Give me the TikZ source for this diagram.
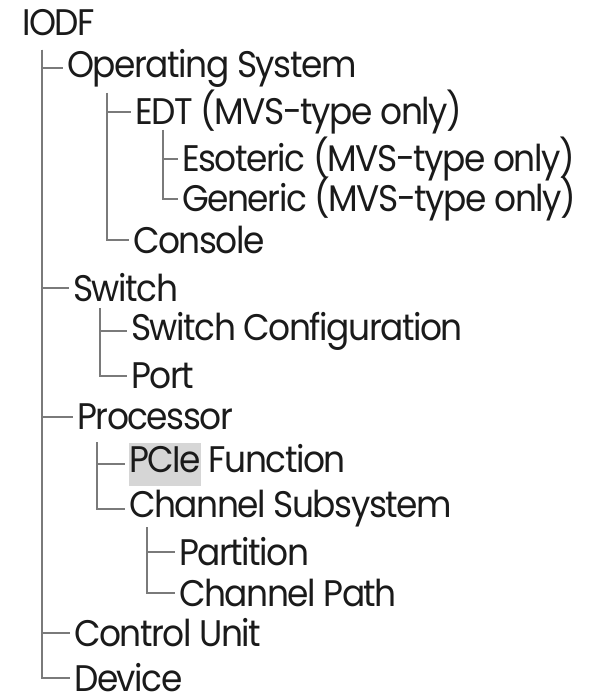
\documentclass[tikz,border=0pt]{standalone}
\usepackage{fontspec}
\setmainfont{Poppins}[LetterSpace=-4,FakeStretch=0.93]
\usetikzlibrary{positioning}
\definecolor{treegray}{HTML}{7A7A7A}
\definecolor{hlgray}{HTML}{D6D6D6}
\definecolor{textdark}{HTML}{1A1A1A}
\newcommand{\hlbox}[1]{{\setlength{\fboxsep}{0pt}\colorbox{hlgray}{\strut#1}}}

\begin{document}
\begin{tikzpicture}[x=1pt,y=-1pt]
	\useasboundingbox (0,0) rectangle (596,692);
	\begin{scope}[every node/.style={anchor=west,inner xsep=4pt,inner ysep=0pt,text=textdark,font=\fontsize{37}{43}\selectfont}]
		\node (iodf) at (18,23) {IODF};
		\node (os) at (63,68) {Operating System};
		\node (edt) at (131,112) {EDT (MVS-type only)};
		\node (eso) at (178,159) {Esoteric (MVS-type only)};
		\node (gen) at (178,199) {Generic (MVS-type only)};
		\node (con) at (129,240) {Console};
		\node (sw) at (69,288) {Switch};
		\node (swc) at (127,331) {Switch Configuration};
		\node (port) at (127,376) {Port};
		\node (proc) at (73,417) {Processor};
		\node (pcie) at (125,464) {\hlbox{PCIe} Function};
		\node (css) at (125,509) {Channel Subsystem};
		\node (part) at (175,552) {Partition};
		\node (cpath) at (175,593) {Channel Path};
		\node (cu) at (70,633) {Control Unit};
		\node (dev) at (70,678) {Device};
	\end{scope}

	\coordinate (iodfT) at (42,50);
	\coordinate (osT) at (107,93);
	\coordinate (edtT) at (163,130);
	\coordinate (swT) at (100,308);
	\coordinate (procT) at (97,442);
	\coordinate (cssT) at (147,527);

	\begin{scope}[treegray,line width=2pt]
		\draw (iodfT) |- (os.west);
		\draw (iodfT) |- (sw.west);
		\draw (iodfT) |- (proc.west);
		\draw (iodfT) |- (cu.west);
		\draw (iodfT) |- (dev.west);
		\draw (osT) |- (edt.west);
		\draw (osT) |- (con.west);
		\draw (edtT) |- (eso.west);
		\draw (edtT) |- (gen.west);
		\draw (swT) |- (swc.west);
		\draw (swT) |- (port.west);
		\draw (procT) |- (pcie.west);
		\draw (procT) |- (css.west);
		\draw (cssT) |- (part.west);
		\draw (cssT) |- (cpath.west);
	\end{scope}
\end{tikzpicture}
\end{document}
